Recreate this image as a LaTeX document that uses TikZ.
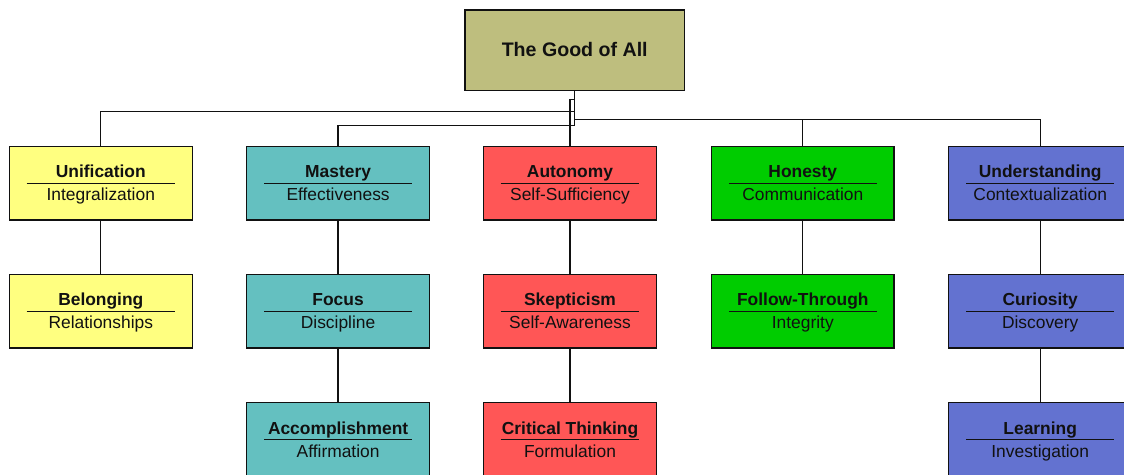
\documentclass[tikz,border=0pt]{standalone}
\usepackage{fontspec}
\setmainfont{Liberation Sans}
\definecolor{cRoot}{HTML}{BEBE7E}
\definecolor{cYel}{HTML}{FFFF80}
\definecolor{cTeal}{HTML}{64C0C0}
\definecolor{cRed}{HTML}{FF5656}
\definecolor{cGrn}{HTML}{00CC00}
\definecolor{cBlu}{HTML}{6372D0}
\definecolor{cInk}{HTML}{111111}
\tikzset{
  orgbox/.style={draw=cInk, line width=1.4pt, rectangle, inner sep=0pt, minimum height=73.7pt},
  conn/.style={draw=cInk, line width=1.3pt},
  rulel/.style={draw=cInk, line width=1.3pt},
  ttl/.style={anchor=base, inner sep=0pt, text=cInk, font=\fontsize{17.4}{20}\selectfont\bfseries},
  sub/.style={anchor=base, inner sep=0pt, text=cInk, font=\fontsize{17.4}{20}\selectfont},
}
\newcommand\orgcard[7]{%
  \node[orgbox, fill=#5, minimum width=#4pt] (#1) at (#2,#3) {};
  \draw[rulel] ([xshift=18pt]#1.west) -- ([xshift=-18pt]#1.east);
  \node[ttl] (#1t) at ([yshift=5.5pt]#1.center) {#6};
  \node[sub] (#1s) at ([yshift=-17.5pt]#1.center) {#7};
}
\begin{document}
\begin{tikzpicture}[x=1pt, y=-1pt]
\useasboundingbox (0,0) rectangle (1124,474);
% root
\node[orgbox, fill=cRoot, minimum width=219.3pt, minimum height=80.7pt] (root) at (574.7,50.35) {};
\node[ttl, font=\fontsize{19.6}{22}\selectfont\bfseries] (roott) at ([yshift=-5.7pt]root.center) {The Good of All};
% level 1
\orgcard{u1}{100.8}{183.2}{183}{cYel}{Unification}{Integralization}
\orgcard{m1}{338.1}{183.2}{182.8}{cTeal}{Mastery}{Effectiveness}
\orgcard{a1}{570}{183.2}{173.4}{cRed}{Autonomy}{Self-Sufficiency}
\orgcard{h1}{802.8}{183.2}{182.3}{cGrn}{Honesty}{Communication}
\orgcard{d1}{1040.2}{183.2}{183}{cBlu}{Understanding}{Contextualization}
% level 2
\orgcard{u2}{100.8}{311.3}{183}{cYel}{Belonging}{Relationships}
\orgcard{m2}{338.1}{311.3}{182.8}{cTeal}{Focus}{Discipline}
\orgcard{a2}{570}{311.3}{173.4}{cRed}{Skepticism}{Self-Awareness}
\orgcard{h2}{802.8}{311.3}{182.3}{cGrn}{Follow-Through}{Integrity}
\orgcard{d2}{1040.2}{311.3}{183}{cBlu}{Curiosity}{Discovery}
% level 3
\orgcard{m3}{338.1}{439.6}{182.8}{cTeal}{Accomplishment}{Affirmation}
\orgcard{a3}{570}{439.6}{173.4}{cRed}{Critical Thinking}{Formulation}
\orgcard{d3}{1040.2}{439.6}{183}{cBlu}{Learning}{Investigation}
% connectors from root
\draw[conn] (root.south) -- ++(0,8.3) -| (a1.north);
\draw[conn] (root.south) -- ++(0,20.3) -| (u1.north);
\draw[conn] (root.south) -- ++(0,34.3) -| (m1.north);
\draw[conn] (root.south) -- ++(0,28.3) -| (h1.north);
\draw[conn] (root.south) -- ++(0,28.3) -| (d1.north);
% vertical connectors
\draw[conn] (u1.south) -- (u2.north);
\draw[conn] (m1.south) -- (m2.north);
\draw[conn] (m2.south) -- (m3.north);
\draw[conn] (a1.south) -- (a2.north);
\draw[conn] (a2.south) -- (a3.north);
\draw[conn] (h1.south) -- (h2.north);
\draw[conn] (d1.south) -- (d2.north);
\draw[conn] (d2.south) -- (d3.north);
\end{tikzpicture}
\end{document}
